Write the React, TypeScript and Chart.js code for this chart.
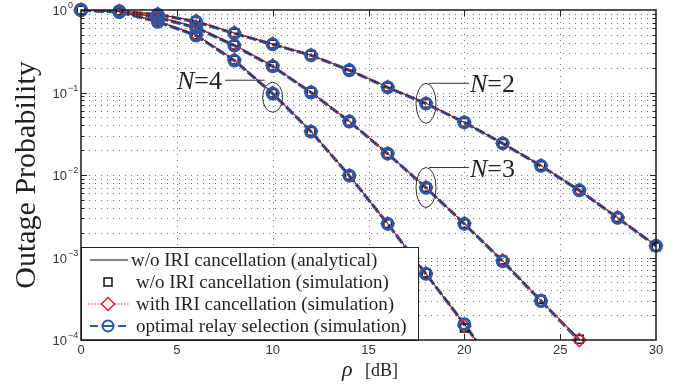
import React, { useEffect, useRef } from 'react';
import { Chart, registerables } from 'chart.js';
Chart.register(...registerables);

// ---------- data ----------
const snrDb = [0, 2, 4, 6, 8, 10, 12, 14, 16, 18, 20, 22, 24, 26, 28, 30];

// w/o IRI cancellation (analytical)
const analyticN2 = [1.0, 0.97, 0.89, 0.73, 0.525, 0.386, 0.284, 0.187, 0.116, 0.074, 0.0435, 0.0242, 0.013, 0.0065, 0.00304, 0.00139];
const analyticN3 = [1.0, 0.96, 0.82, 0.62, 0.375, 0.209, 0.101, 0.0447, 0.0182, 0.00705, 0.00257, 0.00091, 0.000298, 0.000103, null, null];
const analyticN4 = [1.0, 0.95, 0.73, 0.5, 0.247, 0.098, 0.0338, 0.00986, 0.00257, 0.000634, 0.000157, 0.0000345, null, null, null, null];

// w/o IRI cancellation (simulation)
const noIriN2 = [1.0, 0.97, 0.89, 0.73, 0.525, 0.386, 0.284, 0.187, 0.116, 0.074, 0.0435, 0.0242, 0.013, 0.0065, 0.00304, 0.00135];
const noIriN3 = [1.0, 0.96, 0.82, 0.62, 0.375, 0.209, 0.101, 0.0447, 0.0182, 0.00705, 0.00257, 0.00093, 0.00031, 0.000102, null, null];
const noIriN4 = [1.0, 0.95, 0.73, 0.5, 0.247, 0.098, 0.0338, 0.00986, 0.00257, 0.000645, 0.00014, null, null, null, null, null];

// with IRI cancellation (simulation)
const withIriN2 = [1.0, 0.97, 0.9, 0.74, 0.53, 0.39, 0.286, 0.188, 0.117, 0.0745, 0.0437, 0.0243, 0.0131, 0.0066, 0.00306, 0.0014];
const withIriN3 = [1.0, 0.97, 0.83, 0.63, 0.38, 0.212, 0.102, 0.045, 0.0183, 0.0071, 0.0026, 0.00092, 0.0003, 0.0001, null, null];
const withIriN4 = [1.0, 0.96, 0.74, 0.51, 0.25, 0.099, 0.034, 0.0099, 0.00258, 0.00064, 0.000148, 0.0000345, null, null, null, null];

// optimal relay selection (simulation)
const optimalN2 = [1.0, 0.97, 0.88, 0.72, 0.52, 0.383, 0.282, 0.186, 0.115, 0.0735, 0.0433, 0.0241, 0.0129, 0.0065, 0.00302, 0.00138];
const optimalN3 = [1.0, 0.95, 0.81, 0.61, 0.37, 0.207, 0.1, 0.0445, 0.0181, 0.007, 0.00256, 0.0009, 0.000297, 0.000098, null, null];
const optimalN4 = [1.0, 0.94, 0.72, 0.49, 0.244, 0.097, 0.0336, 0.0098, 0.00256, 0.000632, 0.000156, 0.0000345, null, null, null, null];

const xTickValues = [0, 5, 10, 15, 20, 25, 30];
const yTickValues = [1, 0.1, 0.01, 0.001, 0.0001];
const yTickExponents = ['0', '\u22121', '\u22122', '\u22123', '\u22124'];

const legendLabels = [
  'w/o IRI cancellation (analytical)',
  'w/o IRI cancellation (simulation)',
  'with IRI cancellation (simulation)',
  'optimal relay selection (simulation)',
];

const annotationLabels = ['4', '2', '3'];

// ---------- styles ----------
const BLACK = '#111111';
const RED = '#e5232a';
const BLUE = '#2a58a8';
const TEXT = '#231f20';
const SERIF = '"Liberation Serif", "Times New Roman", serif';
const SANS = '"Liberation Sans", Arial, sans-serif';
const YMIN = 1e-4;

const toPts = (arr: (number | null)[]) =>
  snrDb.map((x, i) => ({ x, y: arr[i] })).filter((p) => p.y !== null) as { x: number; y: number }[];

function buildDatasets() {
  const groups = [
    { a: analyticN2, s: noIriN2, w: withIriN2, o: optimalN2 },
    { a: analyticN3, s: noIriN3, w: withIriN3, o: optimalN3 },
    { a: analyticN4, s: noIriN4, w: withIriN4, o: optimalN4 },
  ];
  const ds: any[] = [];
  const visible = (r: number) => (ctx: any) => {
    const v = ctx.raw && ctx.raw.y;
    return v !== undefined && v >= YMIN * 0.99 ? r : 0;
  };
  groups.forEach((g) => {
    ds.push({ data: toPts(g.o), borderColor: BLUE, borderWidth: 3.2, borderDash: [10, 3], pointRadius: 0, order: 30, fill: false });
    ds.push({ data: toPts(g.a), borderColor: BLACK, borderWidth: 1, pointRadius: 0, order: 20, fill: false });
    ds.push({ data: toPts(g.w), borderColor: RED, borderWidth: 1.3, borderDash: [1.5, 1.5], pointRadius: 0, order: 10, fill: false });
    ds.push({ data: toPts(g.s), showLine: false, pointStyle: 'rect', pointRadius: visible(5.5), borderColor: BLACK, backgroundColor: 'rgba(0,0,0,0)', pointBorderWidth: 1.6, order: 3, clip: false });
    ds.push({ data: toPts(g.w), showLine: false, pointStyle: 'rectRot', pointRadius: visible(6.5), borderColor: RED, backgroundColor: 'rgba(0,0,0,0)', pointBorderWidth: 1.6, order: 2, clip: false });
    ds.push({ data: toPts(g.o), showLine: false, pointStyle: 'circle', pointRadius: visible(5.5), borderColor: BLUE, backgroundColor: 'rgba(0,0,0,0)', pointBorderWidth: 2.8, order: 1, clip: false });
  });
  return ds;
}

const decor = {
  id: 'decor',
  beforeDraw(chart: any) {
    const { ctx, width, height } = chart;
    ctx.save();
    ctx.fillStyle = '#ffffff';
    ctx.fillRect(0, 0, width, height);
    ctx.restore();
  },
  beforeDatasetsDraw(chart: any) {
    const { ctx, chartArea: a, scales } = chart;
    const x = scales.x, y = scales.y;
    ctx.save();
    ctx.strokeStyle = '#7a7a7a';
    ctx.lineWidth = 1;
    ctx.setLineDash([1, 5]);
    for (let e = -4; e < 0; e++) {
      for (let m = 1; m < 10; m++) {
        const v = m * Math.pow(10, e);
        if (v <= YMIN * 1.0001) continue;
        const py = Math.round(y.getPixelForValue(v)) + 0.5;
        ctx.beginPath();
        ctx.moveTo(a.left + 2, py);
        ctx.lineTo(a.right, py);
        ctx.stroke();
      }
    }
    xTickValues.slice(1, -1).forEach((t) => {
      const px = Math.round(x.getPixelForValue(t)) + 0.5;
      ctx.beginPath();
      ctx.moveTo(px, a.top);
      ctx.lineTo(px, a.bottom);
      ctx.stroke();
    });
    ctx.restore();
  },
  afterDatasetsDraw(chart: any) {
    const { ctx, chartArea: a, scales } = chart;
    const x = scales.x, y = scales.y;
    ctx.save();
    // ticks
    ctx.strokeStyle = '#222';
    ctx.lineWidth = 1;
    for (let e = -4; e < 0; e++) {
      for (let m = 1; m < 10; m++) {
        const v = m * Math.pow(10, e);
        if (v <= YMIN * 1.0001) continue;
        const py = Math.round(y.getPixelForValue(v)) + 0.5;
        const len = m === 1 ? 6 : 3.5;
        ctx.beginPath();
        ctx.moveTo(a.left, py); ctx.lineTo(a.left + len, py);
        ctx.moveTo(a.right, py); ctx.lineTo(a.right - len, py);
        ctx.stroke();
      }
    }
    xTickValues.slice(1, -1).forEach((t) => {
      const px = Math.round(x.getPixelForValue(t)) + 0.5;
      ctx.beginPath();
      ctx.moveTo(px, a.bottom); ctx.lineTo(px, a.bottom - 6);
      ctx.moveTo(px, a.top); ctx.lineTo(px, a.top + 6);
      ctx.stroke();
    });

    // legend box
    const lx = a.left, ly = 247, lw = 418 - a.left, lh = a.bottom - 247;
    ctx.fillStyle = '#fff';
    ctx.fillRect(lx, ly, lw, lh);
    ctx.strokeStyle = '#222';
    ctx.lineWidth = 1;
    ctx.strokeRect(lx + 0.5, ly + 0.5, lw, lh);
    const rows = [260, 282, 304, 326];
    const mx = 108;
    // row 1
    ctx.beginPath(); ctx.strokeStyle = BLACK; ctx.lineWidth = 1.2;
    ctx.moveTo(90, rows[0]); ctx.lineTo(128, rows[0]); ctx.stroke();
    // row 2
    ctx.lineWidth = 1.5;
    ctx.strokeRect(mx - 4, rows[1] - 4, 8, 8);
    // row 3
    ctx.strokeStyle = RED; ctx.lineWidth = 1.2; ctx.setLineDash([1.5, 1.5]);
    ctx.beginPath(); ctx.moveTo(88, rows[2]); ctx.lineTo(129, rows[2]); ctx.stroke();
    ctx.setLineDash([]); ctx.lineWidth = 1.5;
    ctx.beginPath();
    ctx.moveTo(mx, rows[2] - 6.5); ctx.lineTo(mx + 6.5, rows[2]); ctx.lineTo(mx, rows[2] + 6.5); ctx.lineTo(mx - 6.5, rows[2]); ctx.closePath();
    ctx.fillStyle = '#fff'; ctx.fill(); ctx.stroke();
    // row 4
    ctx.strokeStyle = BLUE; ctx.lineWidth = 2.2;
    ctx.beginPath();
    ctx.moveTo(90, rows[3]); ctx.lineTo(98, rows[3]);
    ctx.moveTo(103, rows[3]); ctx.lineTo(113, rows[3]);
    ctx.moveTo(118, rows[3]); ctx.lineTo(126, rows[3]);
    ctx.stroke();
    ctx.lineWidth = 2;
    ctx.beginPath(); ctx.arc(mx, rows[3], 5.5, 0, Math.PI * 2); ctx.stroke();
    // legend text
    ctx.fillStyle = TEXT;
    ctx.font = '19px ' + SERIF;
    ctx.textBaseline = 'middle';
    ctx.textAlign = 'left';
    legendLabels.forEach((t, i) => ctx.fillText(t, i === 0 ? 131 : 136, rows[i] + 1));

    // box
    ctx.strokeStyle = '#1a1a1a';
    ctx.lineWidth = 1.5;
    ctx.strokeRect(a.left, a.top, a.right - a.left, a.bottom - a.top);

    // x tick labels
    ctx.fillStyle = '#333';
    ctx.font = '13px ' + SANS;
    ctx.textAlign = 'center';
    ctx.textBaseline = 'alphabetic';
    xTickValues.forEach((t) => ctx.fillText(String(t), x.getPixelForValue(t), 354));
    // y tick labels
    yTickValues.forEach((v, i) => {
      const py = y.getPixelForValue(v);
      ctx.font = '13px ' + SANS;
      ctx.textAlign = 'right';
      ctx.fillText('10', 67, py + 5);
      ctx.font = '9px ' + SANS;
      ctx.textAlign = 'left';
      ctx.fillText(yTickExponents[i], 68, py - 2);
    });

    // axis titles
    ctx.fillStyle = TEXT;
    ctx.save();
    ctx.translate(27, (a.top + a.bottom) / 2);
    ctx.rotate(-Math.PI / 2);
    ctx.font = '30px ' + SERIF;
    ctx.textAlign = 'center';
    ctx.textBaseline = 'middle';
    ctx.fillText('Outage Probability', 0, 0);
    ctx.restore();
    ctx.textBaseline = 'alphabetic';
    ctx.textAlign = 'left';
    ctx.font = 'italic 22px ' + SERIF;
    ctx.fillText('\u03c1', 342, 376);
    ctx.font = '18px ' + SERIF;
    ctx.fillText('[dB]', 365, 376);

    // annotations
    const drawN = (label: string, px: number, py: number, alignRight: boolean) => {
      ctx.font = 'italic 26px ' + SERIF;
      const wN = ctx.measureText('N').width;
      ctx.font = '26px ' + SERIF;
      const wR = ctx.measureText('=' + label).width;
      const start = alignRight ? px - wN - wR : px;
      ctx.font = 'italic 26px ' + SERIF;
      ctx.fillText('N', start, py);
      ctx.font = '26px ' + SERIF;
      ctx.fillText('=' + label, start + wN, py);
    };
    ctx.strokeStyle = '#333';
    ctx.lineWidth = 1;
    // N=4
    const c4x = x.getPixelForValue(10), c4y = y.getPixelForValue(analyticN4[5] as number) + 4;
    ctx.beginPath(); ctx.ellipse(c4x, c4y, 10, 15, 0, 0, Math.PI * 2); ctx.stroke();
    ctx.beginPath(); ctx.moveTo(225, c4y - 17); ctx.lineTo(c4x - 8, c4y - 17); ctx.stroke();
    ctx.fillStyle = TEXT;
    drawN(annotationLabels[0], 222, c4y - 8, true);
    // N=2 and N=3
    [[analyticN2, annotationLabels[1]], [analyticN3, annotationLabels[2]]].forEach(([arr, lab]: any) => {
      const cx = x.getPixelForValue(18), cy = y.getPixelForValue(arr[9]);
      ctx.beginPath(); ctx.ellipse(cx, cy, 10, 20, 0, 0, Math.PI * 2); ctx.stroke();
      ctx.beginPath(); ctx.moveTo(cx + 3, cy - 20); ctx.lineTo(cx + 43, cy - 20); ctx.stroke();
      drawN(lab, cx + 44, cy - 11, false);
    });
    ctx.restore();
  },
};

export default function App() {
  const ref = useRef<HTMLCanvasElement>(null);
  useEffect(() => {
    document.body.style.margin = '0';
    const chart = new Chart(ref.current as HTMLCanvasElement, {
      type: 'line',
      data: { datasets: buildDatasets() },
      options: {
        animation: false,
        responsive: false,
        layout: { padding: { left: 0, right: 26, top: 10, bottom: 0 } },
        plugins: { legend: { display: false }, tooltip: { enabled: false } },
        scales: {
          x: {
            type: 'linear', min: 0, max: 30,
            ticks: { display: false }, grid: { display: false }, border: { display: false },
            afterFit: (s: any) => { s.height = 48; },
          },
          y: {
            type: 'logarithmic', min: YMIN, max: 1,
            ticks: { display: false }, grid: { display: false }, border: { display: false },
            afterFit: (s: any) => { s.width = 81; },
          },
        },
      },
      plugins: [decor],
    });
    return () => chart.destroy();
  }, []);
  return (
    <div style={{ position: 'fixed', left: 0, top: 0, width: 682, height: 388 }}>
      <canvas ref={ref} width={682} height={388} style={{ width: 682, height: 388 }} />
    </div>
  );
}
